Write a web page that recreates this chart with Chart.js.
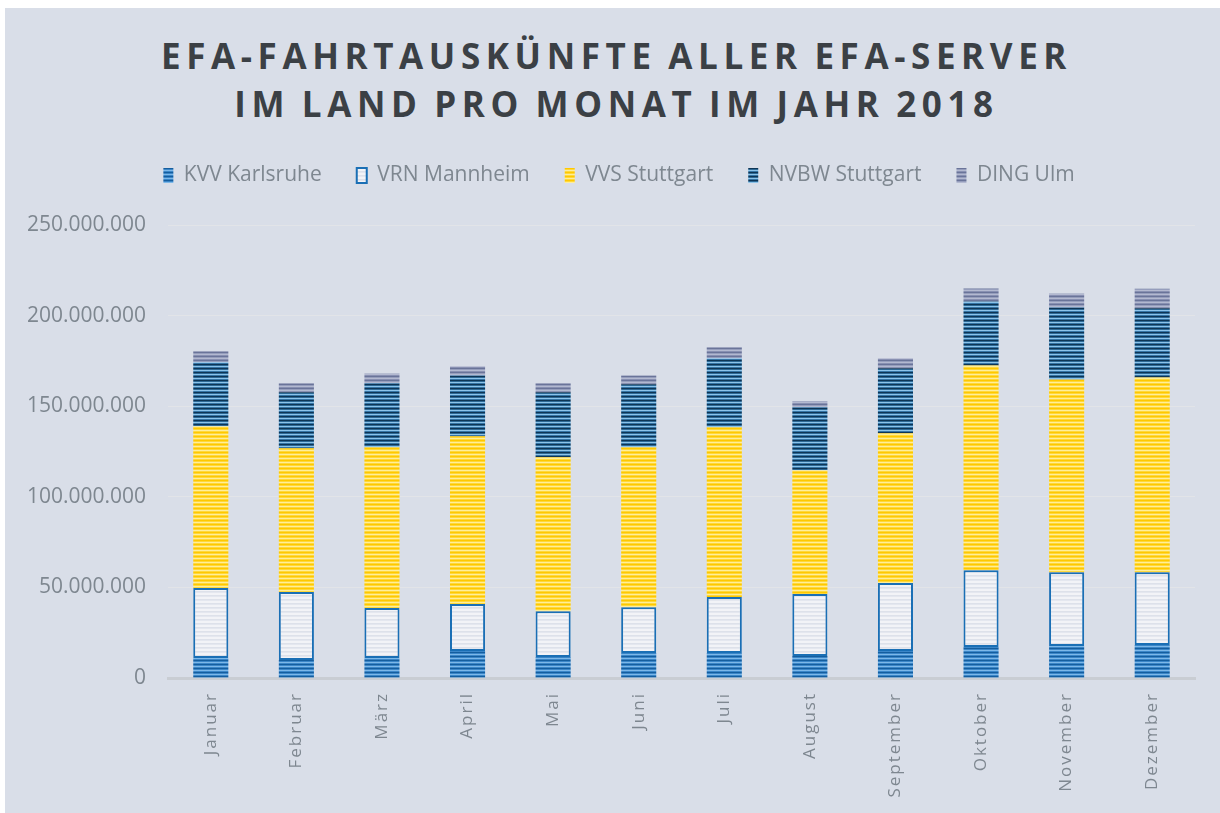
<!DOCTYPE html>
<html>
<head>
<meta charset="utf-8">
<script src="https://cdn.jsdelivr.net/npm/chart.js@4.4.1/dist/chart.umd.min.js"></script>
<style>
  html, body { margin: 0; padding: 0; background: #ffffff; }
  #panel { position: absolute; left: 5px; top: 8px; width: 1215px; height: 805px; background: #D9DEE8; }
  #title { position: absolute; left: 0; top: 24px; width: 1215px; text-align: center;
           font-family: "Open Sans", sans-serif; font-weight: 700; font-size: 35px; line-height: 48px;
           letter-spacing: 5.6px; word-spacing: -3px; color: #3B4045; padding-left: 8px; box-sizing: border-box; }
  canvas { position: absolute; left: 0; top: 0; }
</style>
</head>
<body>
<div id="panel">
  <div id="title">EFA-FAHRTAUSKÜNFTE ALLER EFA-SERVER<br>IM LAND PRO MONAT IM JAHR 2018</div>
  <canvas id="c" width="1215" height="805"></canvas>
</div>
<script>
const months = ['Januar','Februar','März','April','Mai','Juni','Juli','August','September','Oktober','November','Dezember'];
const seriesNames = ['KVV Karlsruhe','VRN Mannheim','VVS Stuttgart','NVBW Stuttgart','DING Ulm'];
const kvv  = [11000000, 9900000, 11000000, 14900000, 11600000, 13800000, 13800000, 12100000, 14900000, 17100000, 17600000, 18200000];
const vrn  = [38600000, 37500000, 27600000, 25900000, 25300000, 25300000, 30900000, 34200000, 37500000, 42400000, 40800000, 40200000];
const vvs  = [89300000, 79400000, 88700000, 92600000, 84900000, 88200000, 93700000, 68400000, 82700000, 113000000, 106400000, 107500000];
const nvbw = [35300000, 30900000, 35300000, 33600000, 35900000, 34800000, 38000000, 34700000, 35800000, 35300000, 39700000, 38100000];
const ding = [6100000, 4900000, 5500000, 5000000, 4900000, 4900000, 6100000, 3300000, 5500000, 7200000, 7700000, 10800000];
const yTicks = [0, 50000000, 100000000, 150000000, 200000000, 250000000];

function stripes(colors) {
  const c = document.createElement('canvas');
  c.width = 8; c.height = colors.length;
  const x = c.getContext('2d');
  colors.forEach((col, i) => { x.fillStyle = col; x.fillRect(0, i, 8, 1); });
  return x.createPattern(c, 'repeat');
}
const pKVV  = stripes(['#155E9E','#3B86C8','#7DB8E8','#3B86C8']);
const pVRN  = stripes(['#E4E7EF','#F2F3F7','#F2F3F7','#DDE1EA']);
const pVVS  = stripes(['#FFC800','#FFD83A','#FFEE9A','#FFD83A']);
const pNVBW = stripes(['#0E3555','#2D6996','#8CC3E9','#3575A6']);
const pDING = stripes(['#6A7499','#959DBC','#B3B9D0','#8890B2']);

function fmt(v) { return String(v).replace(/\B(?=(\d{3})+(?!\d))/g, '.'); }

const xLabelSpacing = {
  id: 'xLabelSpacing',
  afterLayout(chart) {
    const s = chart.scales.x;
    if (!s._wrapped) {
      const orig = s.drawLabels.bind(s);
      s.drawLabels = function(area) {
        const ctx = chart.ctx; ctx.save(); ctx.letterSpacing = '2px'; orig(area); ctx.restore();
      };
      s._wrapped = true;
    }
  }
};
const legendMargin = {
  id: 'legendMargin',
  beforeInit(chart) {
    const fit = chart.legend.fit;
    chart.legend.fit = function() { fit.bind(chart.legend)(); this.height += 29; };
  },
  afterLayout(chart) {
    chart.legend.left += 19;
    chart.legend.right += 19;
  }
};

new Chart(document.getElementById('c'), {
  type: 'bar',
  data: {
    labels: months,
    datasets: [
      { label: seriesNames[0], data: kvv,  backgroundColor: pKVV,  borderWidth: 0 },
      { label: seriesNames[1], data: vrn,  backgroundColor: pVRN,  borderColor: '#1A6FB5', borderWidth: 2, borderSkipped: false },
      { label: seriesNames[2], data: vvs,  backgroundColor: pVVS,  borderWidth: 0 },
      { label: seriesNames[3], data: nvbw, backgroundColor: pNVBW, borderWidth: 0 },
      { label: seriesNames[4], data: ding, backgroundColor: pDING, borderWidth: 0 }
    ]
  },
  options: {
    responsive: false,
    animation: false,
    datasets: { bar: { categoryPercentage: 1, barPercentage: 0.41 } },
    layout: { padding: { top: 122, right: 25, left: 0, bottom: 0 } },
    plugins: {
      title: { display: false },
      tooltip: { enabled: false },
      legend: {
        position: 'top',
        labels: {
          boxWidth: 10, boxHeight: 15, padding: 35,
          color: '#7E8790',
          font: { family: 'Open Sans', size: 21 }
        }
      }
    },
    scales: {
      x: {
        stacked: true,
        grid: { display: false, drawTicks: false },
        border: { display: true, color: '#C9CDD3', width: 3 },
        ticks: {
          color: '#7E8790', font: { family: 'Open Sans', size: 17 },
          minRotation: 90, maxRotation: 90, padding: 14, autoSkip: false
        },
        afterFit(s) { s.height = 135; }
      },
      y: {
        stacked: true,
        min: 0, max: 250000000,
        afterBuildTicks(s) { s.ticks = yTicks.map(v => ({ value: v })); },
        grid: { color: '#E2E4E8', lineWidth: 1, drawTicks: false },
        border: { display: false },
        ticks: {
          color: '#7E8790', font: { family: 'Open Sans', size: 21 }, padding: 22,
          callback: v => fmt(v)
        },
        afterFit(s) { s.width = 163; }
      }
    }
  },
  plugins: [xLabelSpacing, legendMargin]
});
</script>
</body>
</html>
